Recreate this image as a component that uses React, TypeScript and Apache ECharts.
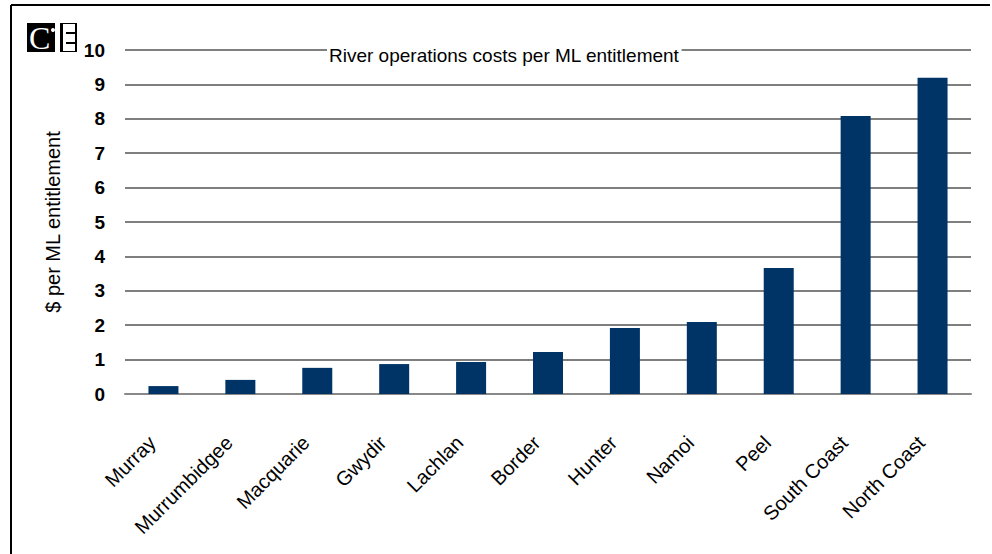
import React, { useEffect, useRef } from "react";
import * as echarts from "echarts";

const categories = [
  "Murray",
  "Murrumbidgee",
  "Macquarie",
  "Gwydir",
  "Lachlan",
  "Border",
  "Hunter",
  "Namoi",
  "Peel",
  "South Coast",
  "North Coast",
];
const costs = [0.23, 0.41, 0.76, 0.87, 0.93, 1.22, 1.92, 2.09, 3.66, 8.08, 9.19];
const titleText = "River operations costs per ML entitlement";
const yAxisName = "$ per ML entitlement";

const FONT = "'Liberation Sans Narrow', 'Liberation Sans', Arial, sans-serif";

export default function App() {
  const ref = useRef<HTMLDivElement>(null);
  useEffect(() => {
    if (!ref.current) return;
    const chart = echarts.init(ref.current, null, { renderer: "svg" });
    chart.setOption({
      animation: false,
      backgroundColor: "#ffffff",
      title: {
        text: titleText,
        left: 327,
        top: 46,
        padding: [0, 2, 0, 2],
        backgroundColor: "#ffffff",
        textStyle: { fontFamily: FONT, fontSize: 19, fontWeight: "normal", color: "#000" },
      },
      grid: { left: 125, right: 21, top: 50, bottom: 160 },
      xAxis: {
        type: "category",
        data: categories,
        axisLine: { show: true, lineStyle: { color: "#888", width: 2 } },
        axisTick: { show: false },
        axisLabel: {
          rotate: 45,
          interval: 0,
          margin: 34,
          padding: [0, 16, 0, 0],
          fontFamily: FONT,
          fontSize: 20,
          color: "#000",
        },
      },
      yAxis: {
        type: "value",
        min: 0,
        max: 10,
        interval: 1,
        name: yAxisName,
        nameLocation: "middle",
        nameGap: 62,
        nameTextStyle: { fontFamily: FONT, fontSize: 20, color: "#000" },
        axisLine: { show: false },
        axisTick: { show: false },
        splitLine: { lineStyle: { color: "#555", width: 1.5 } },
        axisLabel: { margin: 20, fontFamily: FONT, fontSize: 19, fontWeight: "bold", color: "#000" },
      },
      series: [
        {
          type: "bar",
          data: costs,
          barWidth: 30,
          itemStyle: { color: "#003366" },
        },
      ],
      graphic: [
        { type: "line", shape: { x1: 11, y1: 5, x2: 990, y2: 5 }, style: { stroke: "#000", lineWidth: 2 } },
        { type: "line", shape: { x1: 11, y1: 5, x2: 11, y2: 560 }, style: { stroke: "#000", lineWidth: 2 } },
        {
          type: "group",
          children: [
            { type: "rect", shape: { x: 27, y: 23, width: 50, height: 29 }, style: { fill: "#000" } },
            {
              type: "text",
              x: 29,
              y: 22,
              style: { text: "C", fill: "#fff", font: "32px 'Liberation Serif', 'DejaVu Serif', serif" },
            },
            { type: "circle", shape: { cx: 53, cy: 30, r: 2 }, style: { fill: "#fff" } },
            { type: "rect", shape: { x: 55, y: 23, width: 5, height: 29 }, style: { fill: "#fff" } },
            { type: "rect", shape: { x: 63, y: 24, width: 12, height: 27 }, style: { fill: "#fff" } },
            { type: "rect", shape: { x: 66, y: 32, width: 9, height: 2 }, style: { fill: "#000" } },
            { type: "rect", shape: { x: 66, y: 42, width: 9, height: 2 }, style: { fill: "#000" } },
          ],
        },
      ],
    });
    return () => chart.dispose();
  }, []);
  return (
    <div
      ref={ref}
      style={{ position: "fixed", left: 0, top: 0, width: 992, height: 554 }}
    />
  );
}
